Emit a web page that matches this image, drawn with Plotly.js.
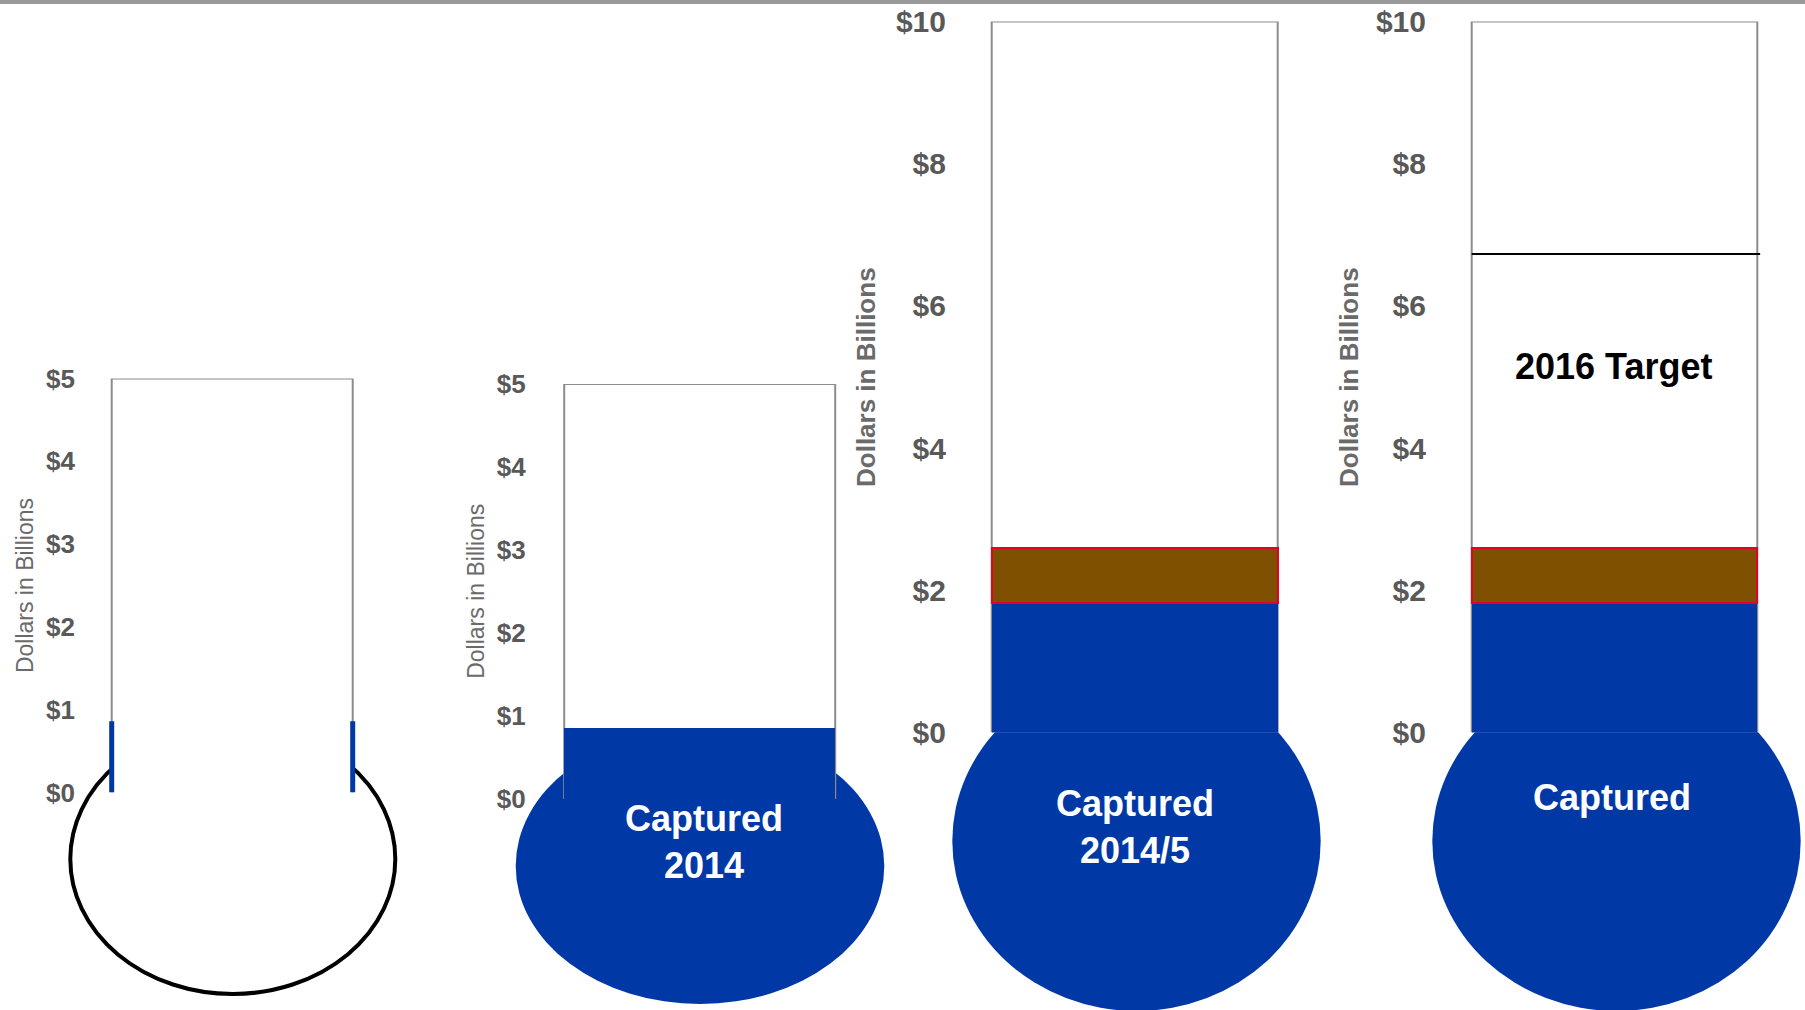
<!DOCTYPE html>
<html><head><meta charset="utf-8">
<script src="https://cdn.plot.ly/plotly-3.0.1.min.js"></script>
<style>html,body{margin:0;padding:0;background:#fff;}#chart{width:1805px;height:1010px;}</style>
</head><body><div id="chart"></div>
<script>
// ---------- DATA ----------
const panelNames = ['Empty', 'Captured 2014', 'Captured 2014/5', '2016 Target'];
const axisMax = [5, 5, 10, 10];
const tickVals5 = [0, 1, 2, 3, 4, 5];
const tickText5 = ['$0', '$1', '$2', '$3', '$4', '$5'];
const tickVals10 = [0, 2, 4, 6, 8, 10];
const tickText10 = ['$0', '$2', '$4', '$6', '$8', '$10'];
const capturedBlue = [0.86, 0.86, 1.82, 1.82];   // $B captured (blue)
const capturedBrown = [0, 0, 0.78, 0.78];        // $B added 2015 (brown)
const target2016 = 6.73;                         // $B 2016 target
const bulbLabels = ['', 'Captured<br>2014', 'Captured<br>2014/5', 'Captured'];
const targetLabel = '2016 Target';
const yTitle = 'Dollars in Billions';

// ---------- STYLE / GEOMETRY (pixels) ----------
const W = 1805, H = 1010;
const BLUE = '#0039A6', BROWN = '#7F5000', RED = '#E4002B', TUBE = '#8C8C8C';
const FONT = 'Liberation Sans, Arial, Helvetica, sans-serif';
const geo = [
  {tubeL:111.7, tubeR:352.7, top:378.5, zero:792.5, bulb:{cx:232.8, cy:859, rx:162.5, ry:135}, tick:26, gap:31, tX:24.6, tSize:23, tW:'normal', lab:null},
  {tubeL:564.2, tubeR:835.2, top:384, zero:799, bulb:{cx:700, cy:866, rx:184.3, ry:138}, tick:26, gap:32, tX:475.3, tSize:23, tW:'normal', lab:{x:703.7, y:842}},
  {tubeL:991.7, tubeR:1277.7, top:21.5, zero:732.5, bulb:{cx:1136.5, cy:841, rx:184.2, ry:170}, tick:30, gap:39, tX:866, tSize:26, tW:'bold', lab:{x:1135, y:827}},
  {tubeL:1471.7, tubeR:1757.3, top:21.5, zero:732.5, bulb:{cx:1616.5, cy:841, rx:184.2, ry:170}, tick:30, gap:39, tX:1349, tSize:26, tW:'bold', lab:{x:1612, y:797}}
];
const HALF = 0.5, PADX = 0.52;
const px = v => v / W, py = v => 1 - v / H;

const traces = [], shapes = [], annotations = [];
const layout = {
  width: W, height: H, autosize: false,
  margin: {l: 0, r: 0, t: 0, b: 0, pad: 0},
  paper_bgcolor: '#ffffff', plot_bgcolor: 'rgba(0,0,0,0)',
  showlegend: false, barmode: 'stack', hovermode: false,
  font: {family: FONT}
};

geo.forEach((g, i) => {
  const n = i === 0 ? '' : String(i + 1);
  const xa = 'x' + n, ya = 'y' + n;
  const c = (g.tubeL + g.tubeR) / 2, w = g.tubeR - g.tubeL;
  const five = axisMax[i] === 5;
  layout['xaxis' + n] = {
    domain: [px(c - w * PADX), px(c + w * PADX)], range: [-PADX, PADX],
    visible: false, fixedrange: true, anchor: ya
  };
  layout['yaxis' + n] = {
    domain: [py(g.zero), py(g.top)], range: [0, axisMax[i]], anchor: xa,
    tickmode: 'array', tickvals: five ? tickVals5 : tickVals10,
    ticktext: five ? tickText5 : tickText10,
    showgrid: false, zeroline: false, showline: false, ticks: '',
    ticklabelstandoff: g.gap,
    tickfont: {family: FONT, size: g.tick, color: '#595959', weight: 'bold'},
    fixedrange: true
  };
  // bulb
  const b = g.bulb;
  shapes.push({
    type: 'circle', xref: 'paper', yref: 'paper', layer: 'below',
    x0: px(b.cx - b.rx), x1: px(b.cx + b.rx), y0: py(b.cy + b.ry), y1: py(b.cy - b.ry),
    fillcolor: i === 0 ? '#ffffff' : BLUE,
    line: {color: i === 0 ? '#000000' : BLUE, width: i === 0 ? 4 : 0}
  });
  // tube interior
  shapes.push({
    type: 'rect', xref: xa, yref: ya, layer: 'below',
    x0: -HALF, x1: HALF, y0: 0, y1: axisMax[i],
    fillcolor: '#ffffff', line: {width: 0}
  });
  // tube outline (open at bottom)
  shapes.push({
    type: 'path', xref: xa, yref: ya, layer: 'below',
    path: `M ${-HALF},0 L ${-HALF},${axisMax[i]} L ${HALF},${axisMax[i]} L ${HALF},0`,
    line: {color: TUBE, width: 2}
  });
  // captured amounts
  if (i === 0) {
    traces.push({
      type: 'scatter', mode: 'lines', xaxis: xa, yaxis: ya, name: panelNames[i],
      x: [-HALF, -HALF, null, HALF, HALF],
      y: [0, capturedBlue[i], null, 0, capturedBlue[i]],
      line: {color: BLUE, width: 5}, hoverinfo: 'skip'
    });
  } else {
    traces.push({
      type: 'bar', xaxis: xa, yaxis: ya, name: panelNames[i] + ' blue',
      x: [0], y: [capturedBlue[i]], width: 1,
      marker: {color: BLUE, line: {width: 0}}, hoverinfo: 'skip'
    });
    if (capturedBrown[i] > 0) {
      traces.push({
        type: 'bar', xaxis: xa, yaxis: ya, name: panelNames[i] + ' brown',
        x: [0], y: [capturedBrown[i]], width: 1,
        marker: {color: BROWN, line: {color: RED, width: 2}}, hoverinfo: 'skip'
      });
    }
  }
  // y axis title
  annotations.push({
    xref: 'paper', yref: 'paper', x: px(g.tX), y: py((g.top + g.zero) / 2),
    xanchor: 'center', yanchor: 'middle', textangle: -90, showarrow: false,
    text: yTitle, font: {family: FONT, size: g.tSize, color: '#6A6A6A', weight: g.tW}
  });
  if (g.lab) {
    annotations.push({
      xref: 'paper', yref: 'paper', x: px(g.lab.x), y: py(g.lab.y),
      xanchor: 'center', yanchor: 'middle', showarrow: false,
      text: bulbLabels[i], font: {family: FONT, size: 36, color: '#ffffff', weight: 'bold'}
    });
  }
});

// 2016 target line and label (panel 4)
shapes.push({
  type: 'line', xref: 'x4', yref: 'y4', layer: 'above',
  x0: -HALF, x1: HALF + 0.01, y0: target2016, y1: target2016,
  line: {color: '#000000', width: 2}
});
annotations.push({
  xref: 'paper', yref: 'paper', x: px(1613.7), y: py(366),
  xanchor: 'center', yanchor: 'middle', showarrow: false,
  text: targetLabel, font: {family: FONT, size: 36, color: '#000000', weight: 'bold'}
});
// top gray rule
shapes.push({
  type: 'rect', xref: 'paper', yref: 'paper', layer: 'above',
  x0: 0, x1: 1, y0: 1 - 4 / H, y1: 1, fillcolor: '#999999', line: {width: 0}
});

layout.shapes = shapes;
layout.annotations = annotations;
Plotly.newPlot('chart', traces, layout, {staticPlot: true, displayModeBar: false});
</script>
</body></html>
